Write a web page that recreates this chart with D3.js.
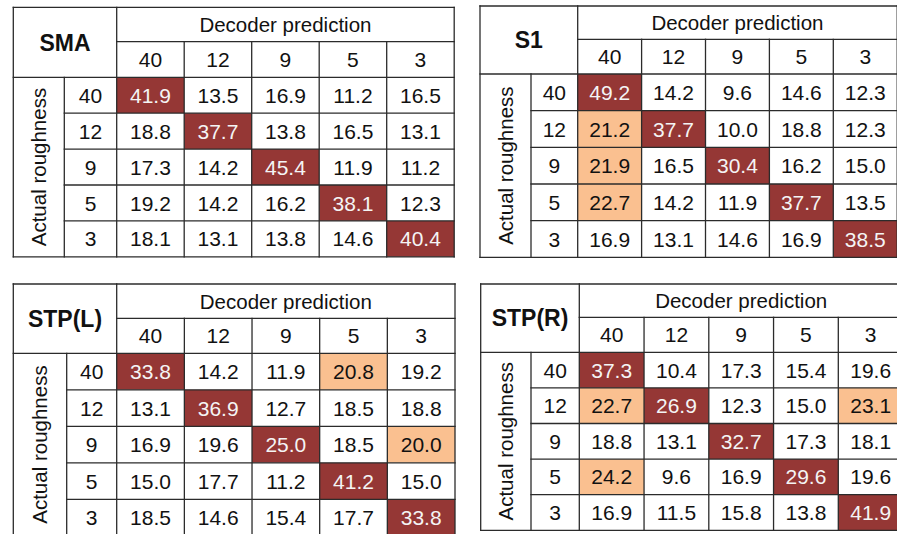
<!DOCTYPE html>
<html>
<head>
<meta charset="utf-8">
<script src="https://cdn.jsdelivr.net/npm/d3@7"></script>
<style>
  html, body { margin: 0; padding: 0; background: #fff; }
  svg { display: block; }
  text { font-family: "Liberation Sans", Arial, sans-serif; }
</style>
</head>
<body>
<svg id="chart" width="897" height="534"></svg>
<script>
// ---- data ----
const panelTitles = ["SMA", "S1", "STP(L)", "STP(R)"];
const colLabels = ["40", "12", "9", "5", "3"];
const rowLabels = ["40", "12", "9", "5", "3"];
const colTitle = "Decoder prediction";
const rowTitle = "Actual roughness";

const smaValues = [
  [41.9, 13.5, 16.9, 11.2, 16.5],
  [18.8, 37.7, 13.8, 16.5, 13.1],
  [17.3, 14.2, 45.4, 11.9, 11.2],
  [19.2, 14.2, 16.2, 38.1, 12.3],
  [18.1, 13.1, 13.8, 14.6, 40.4]
];
const s1Values = [
  [49.2, 14.2, 9.6, 14.6, 12.3],
  [21.2, 37.7, 10.0, 18.8, 12.3],
  [21.9, 16.5, 30.4, 16.2, 15.0],
  [22.7, 14.2, 11.9, 37.7, 13.5],
  [16.9, 13.1, 14.6, 16.9, 38.5]
];
const stplValues = [
  [33.8, 14.2, 11.9, 20.8, 19.2],
  [13.1, 36.9, 12.7, 18.5, 18.8],
  [16.9, 19.6, 25.0, 18.5, 20.0],
  [15.0, 17.7, 11.2, 41.2, 15.0],
  [18.5, 14.6, 15.4, 17.7, 33.8]
];
const stprValues = [
  [37.3, 10.4, 17.3, 15.4, 19.6],
  [22.7, 26.9, 12.3, 15.0, 23.1],
  [18.8, 13.1, 32.7, 17.3, 18.1],
  [24.2, 9.6, 16.9, 29.6, 19.6],
  [16.9, 11.5, 15.8, 13.8, 41.9]
];
const highlightThreshold = 20;

// ---- layout (positions only) ----
const layouts = [
  {x: 13.3, y: 7.3, titleW: 51, labelW: 52.4, colW: 67.5, h1: 34.4, h2: 35.6, rowH: 35.9},
  {x: 480, y: 6, titleW: 51, labelW: 46.7, colW: 63.9, h1: 33.3, h2: 34.7, rowH: 36.66},
  {x: 13.3, y: 284, titleW: 53.4, labelW: 50, colW: 67.66, h1: 34.3, h2: 35, rowH: 36.5},
  {x: 480.7, y: 284, titleW: 50.3, labelW: 48.3, colW: 64.75, h1: 33.3, h2: 35, rowH: 35.6}
];
const panelValues = [smaValues, s1Values, stplValues, stprValues];

const DIAG = "#953735", HIGH = "#FAC090", LINE = "#2b2b2b";
const FS = 21;
const svg = d3.select("#chart");

panelValues.forEach((values, p) => {
  const L = layouts[p];
  const g = svg.append("g");
  const dataX0 = L.x + L.titleW + L.labelW;
  const x = d3.scaleBand().domain(colLabels).range([dataX0, dataX0 + L.colW * colLabels.length]);
  const rowsTop = L.y + L.h1 + L.h2;
  const y = d3.scaleBand().domain(rowLabels).range([rowsTop, rowsTop + L.rowH * rowLabels.length]);
  const right = x.range()[1], bottom = y.range()[1];

  const cells = [];
  values.forEach((row, i) => row.forEach((v, j) => cells.push({r: rowLabels[i], c: colLabels[j], v, diag: i === j})));

  // fills
  g.selectAll("rect.cell").data(cells).join("rect")
    .attr("x", d => x(d.c)).attr("y", d => y(d.r))
    .attr("width", x.bandwidth()).attr("height", y.bandwidth())
    .attr("fill", d => d.diag ? DIAG : (d.v >= highlightThreshold ? HIGH : "#fff"));

  // grid lines
  const lines = [];
  lines.push([L.x, L.y, right, L.y]);
  lines.push([L.x, bottom, right, bottom]);
  lines.push([L.x, L.y, L.x, bottom]);
  lines.push([right, L.y, right, bottom]);
  lines.push([dataX0, L.y + L.h1, right, L.y + L.h1]);
  lines.push([L.x, rowsTop, right, rowsTop]);
  lines.push([dataX0, L.y, dataX0, bottom]);
  lines.push([L.x + L.titleW, rowsTop, L.x + L.titleW, bottom]);
  colLabels.slice(1).forEach(c => lines.push([x(c), L.y + L.h1, x(c), bottom]));
  rowLabels.slice(1).forEach(r => lines.push([L.x + L.titleW, y(r), right, y(r)]));

  g.selectAll("line").data(lines).join("line")
    .attr("x1", d => d[0]).attr("y1", d => d[1]).attr("x2", d => d[2]).attr("y2", d => d[3])
    .attr("stroke", LINE).attr("stroke-width", 1.3).attr("stroke-linecap", "square");

  // cell text
  g.selectAll("text.val").data(cells).join("text")
    .attr("x", d => x(d.c) + x.bandwidth() / 2).attr("y", d => y(d.r) + y.bandwidth() / 2)
    .attr("dy", "0.36em").attr("text-anchor", "middle")
    .attr("font-size", FS)
    .attr("fill", d => d.diag ? "#f4f4f4" : "#111")
    .text(d => d.v.toFixed(1));

  // column labels
  g.selectAll("text.col").data(colLabels).join("text")
    .attr("x", d => x(d) + x.bandwidth() / 2).attr("y", L.y + L.h1 + L.h2 / 2)
    .attr("dy", "0.36em").attr("text-anchor", "middle").attr("font-size", FS).attr("fill", "#111")
    .text(d => d);

  // row labels
  g.selectAll("text.row").data(rowLabels).join("text")
    .attr("x", L.x + L.titleW + L.labelW / 2).attr("y", d => y(d) + y.bandwidth() / 2)
    .attr("dy", "0.36em").attr("text-anchor", "middle").attr("font-size", FS).attr("fill", "#111")
    .text(d => d);

  // column title
  g.append("text")
    .attr("x", (dataX0 + right) / 2).attr("y", L.y + L.h1 / 2)
    .attr("dy", "0.36em").attr("text-anchor", "middle").attr("font-size", 20.5).attr("fill", "#111")
    .text(colTitle);

  // row title (rotated)
  const rcx = L.x + L.titleW / 2, rcy = (rowsTop + bottom) / 2;
  g.append("text")
    .attr("transform", `translate(${rcx},${rcy}) rotate(-90)`)
    .attr("dy", "0.36em").attr("text-anchor", "middle").attr("font-size", 20.5).attr("fill", "#111")
    .text(rowTitle);

  // panel title
  g.append("text")
    .attr("x", L.x + (L.titleW + L.labelW) / 2).attr("y", L.y + (L.h1 + L.h2) / 2)
    .attr("dy", "0.36em").attr("text-anchor", "middle").attr("font-size", 23).attr("font-weight", "bold").attr("fill", "#111")
    .text(panelTitles[p]);
});
</script>
</body>
</html>
